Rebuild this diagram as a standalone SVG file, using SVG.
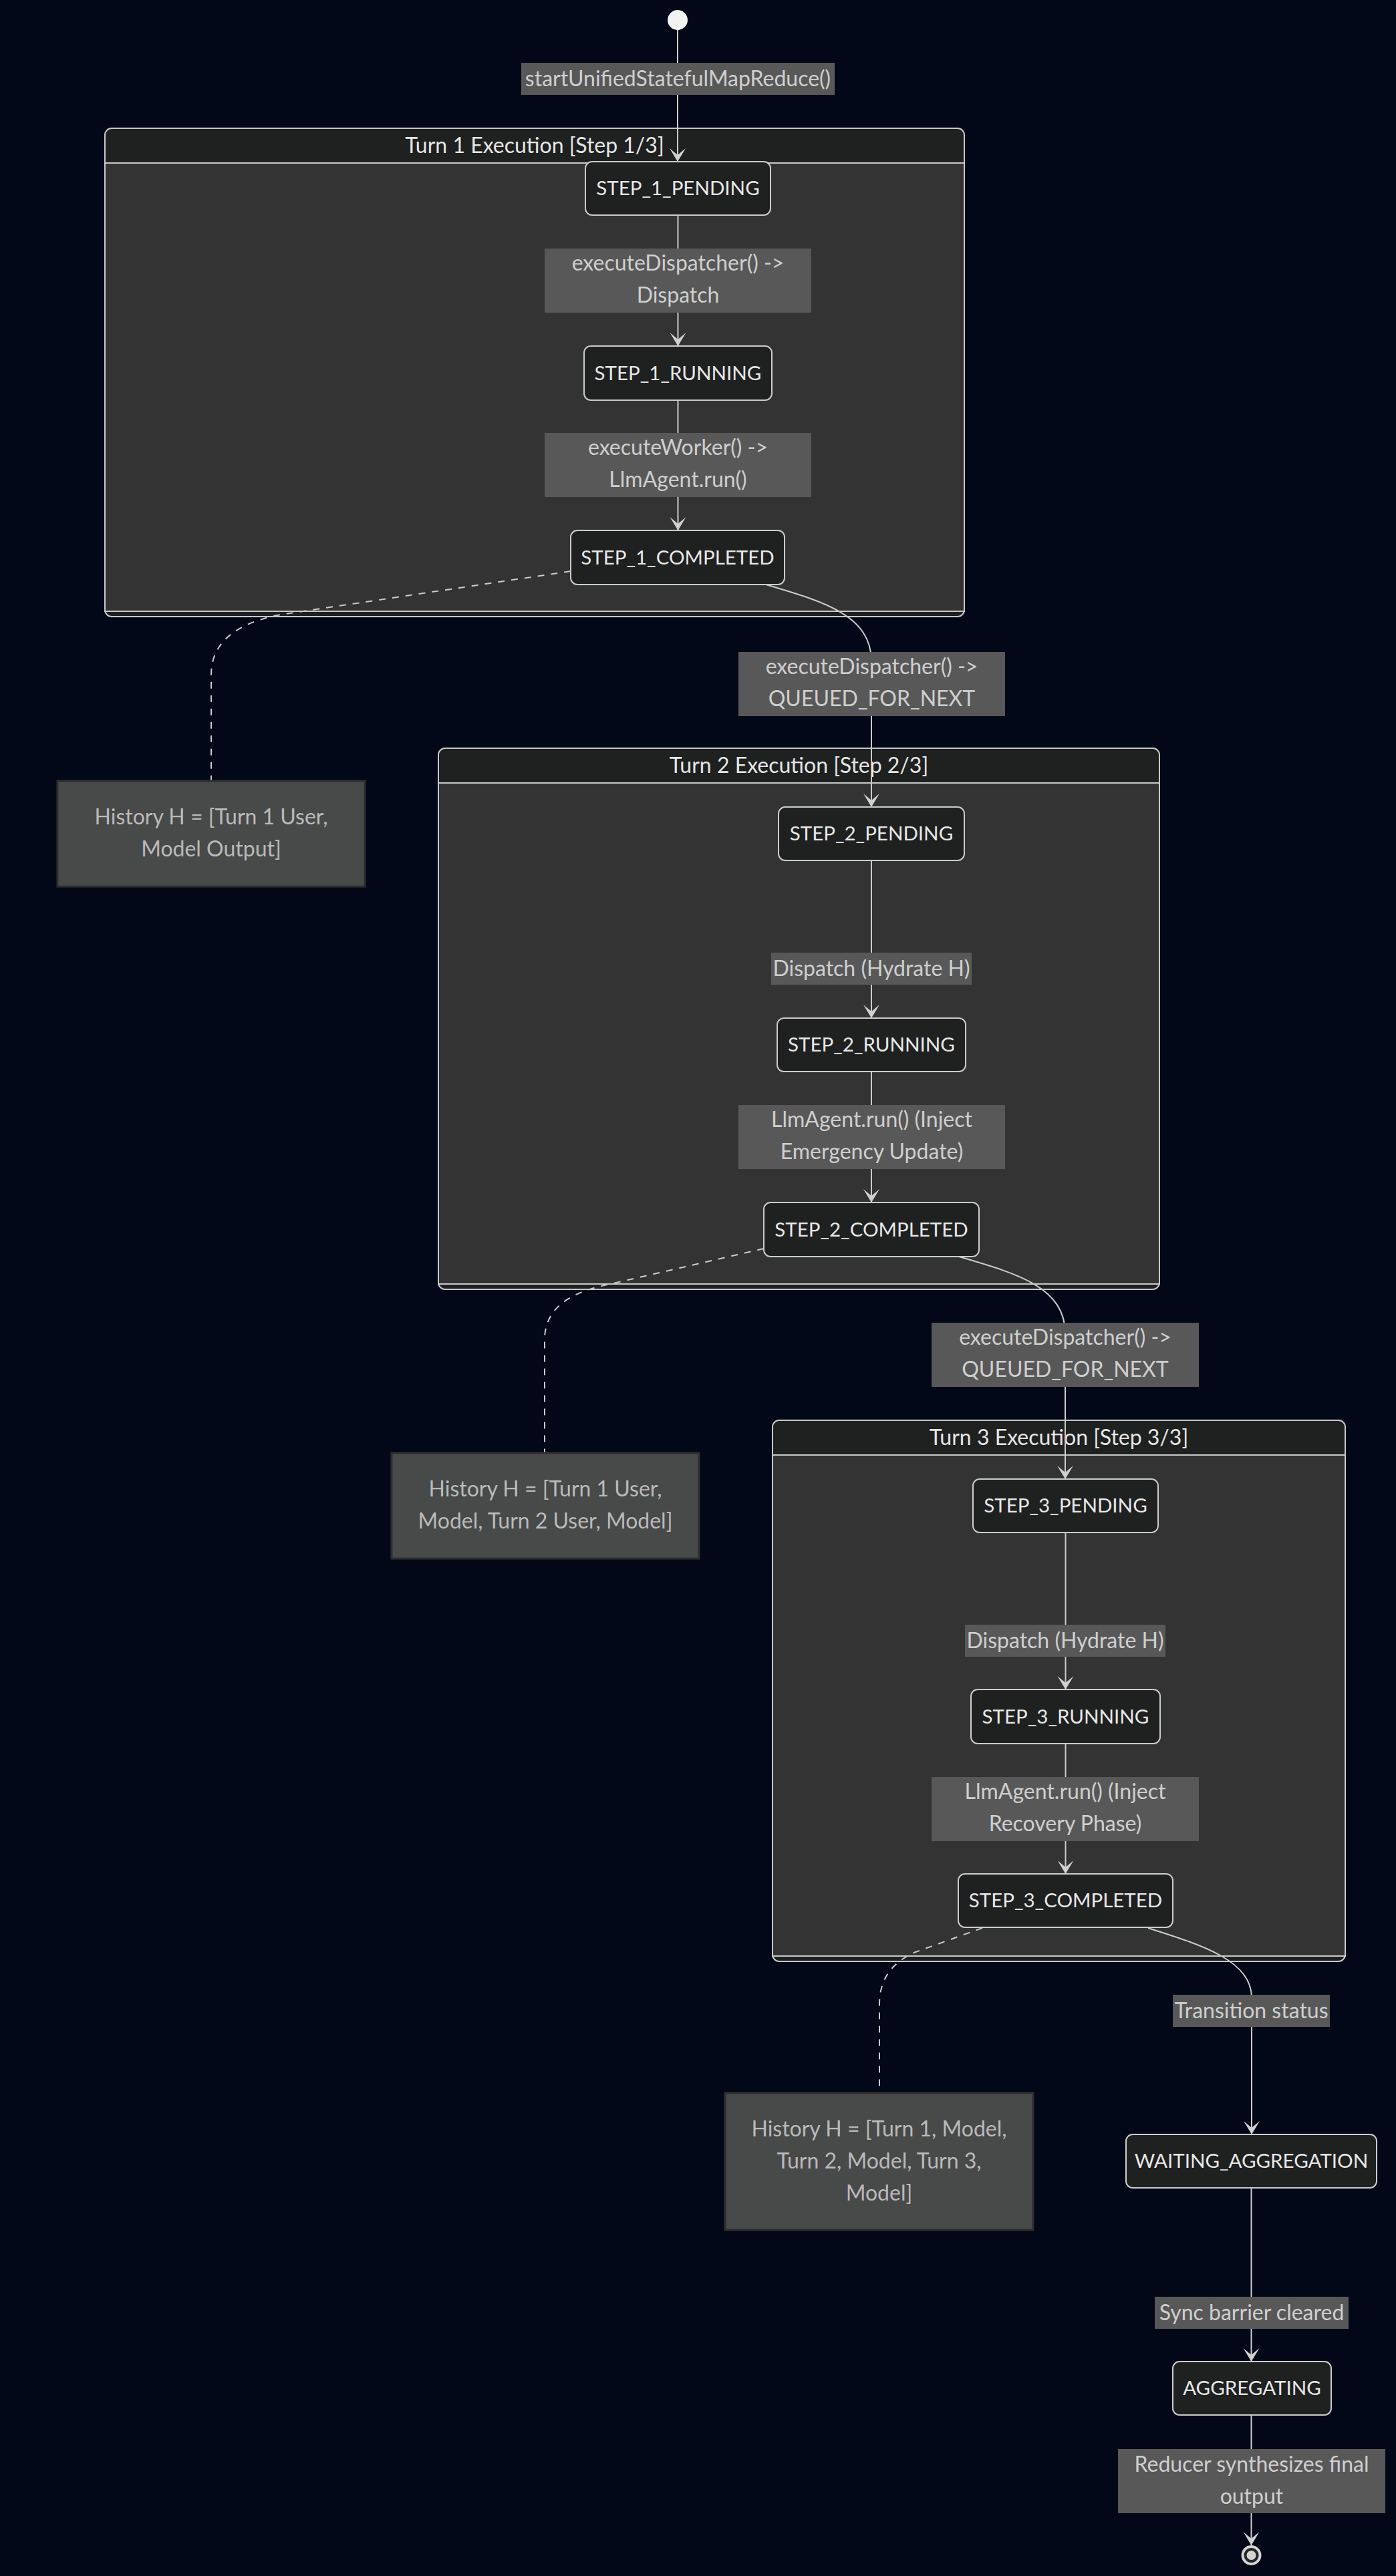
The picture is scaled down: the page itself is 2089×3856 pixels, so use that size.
<svg xmlns="http://www.w3.org/2000/svg" width="2089" height="3856" viewBox="0 0 2089 3856">
<style>
text{font-family:Lato,"Open Sans","DejaVu Sans",sans-serif;font-size:32px;text-anchor:middle}
.bg{fill:#020817}
.cl-outer{fill:#1f2020;stroke:#c8c8c8;stroke-width:2}
.cl-inner{fill:#333333;stroke:#c8c8c8;stroke-width:2}
.cl-title{fill:#e6e6e6}
.node rect{fill:#1f2020;stroke:#cccccc;stroke-width:2}
.node text{fill:#e8e8e8;font-size:29.5px}
.lbl rect{fill:#585858}
.lbl text{fill:#cfcfcf}
.note rect{fill:#484949;stroke:#2e2e2e;stroke-width:3}
.note text{fill:#bababa}
.edge{fill:none;stroke:#cccccc;stroke-width:2}
.dash{fill:none;stroke:#cccccc;stroke-width:2;stroke-dasharray:10 10}
</style>
<defs>
<marker id="arr" viewBox="0 0 20 14" refX="19" refY="7" markerWidth="40" markerHeight="28" markerUnits="userSpaceOnUse" orient="auto">
<path d="M19,7 L9,13 L14,7 L9,1 Z" fill="#d0d0d0"/>
</marker>
</defs>
<rect class="bg" x="0" y="0" width="2089" height="3856"/>

<g id="cluster-turn1">
<rect class="cl-outer" x="157" y="192" width="1286" height="731" rx="10"/>
<rect class="cl-inner" x="157" y="244" width="1286" height="671"/>
<text class="cl-title" x="800" y="229">Turn 1 Execution [Step 1/3]</text>
</g>
<g id="cluster-turn2">
<rect class="cl-outer" x="656" y="1120" width="1079" height="810" rx="10"/>
<rect class="cl-inner" x="656" y="1172" width="1079" height="750"/>
<text class="cl-title" x="1195.5" y="1157">Turn 2 Execution [Step 2/3]</text>
</g>
<g id="cluster-turn3">
<rect class="cl-outer" x="1156" y="2126" width="857" height="810" rx="10"/>
<rect class="cl-inner" x="1156" y="2178" width="857" height="750"/>
<text class="cl-title" x="1584.5" y="2163">Turn 3 Execution [Step 3/3]</text>
</g>

<g id="connectors">
<path class="edge" d="M1014,45 L1014,242" marker-end="url(#arr)"/>
<path class="edge" d="M1014.5,322 L1014.5,518" marker-end="url(#arr)"/>
<path class="edge" d="M1014.5,599 L1014.5,794" marker-end="url(#arr)"/>
<path class="edge" d="M1146,875 C1230,900 1304,920 1304,990 L1304,1208" marker-end="url(#arr)"/>
<path class="edge" d="M1304,1288 L1304,1524" marker-end="url(#arr)"/>
<path class="edge" d="M1304,1604 L1304,1800" marker-end="url(#arr)"/>
<path class="edge" d="M1435,1881 C1520,1906 1594,1926 1594,1996 L1594,2214" marker-end="url(#arr)"/>
<path class="edge" d="M1594.5,2294 L1594.5,2529" marker-end="url(#arr)"/>
<path class="edge" d="M1594.5,2610 L1594.5,2805" marker-end="url(#arr)"/>
<path class="edge" d="M1718,2886 C1800,2912 1873,2935 1873,2990 L1873,3195" marker-end="url(#arr)"/>
<path class="edge" d="M1872.5,3275 L1872.5,3535" marker-end="url(#arr)"/>
<path class="edge" d="M1872.5,3615 L1872.5,3810" marker-end="url(#arr)"/>
<path class="dash" d="M854,855 L420,920 Q316,940 316,1010 L316,1169"/>
<path class="dash" d="M1143,1869 L900,1925 Q815,1945 815,2005 L815,2175"/>
<path class="dash" d="M1470,2886 L1370,2922 Q1316,2945 1316,3000 L1316,3133"/>
</g>

<g id="edge-labels">
<g class="lbl"><rect x="780" y="94" width="469" height="48"/><text x="1014.5" y="129">startUnifiedStatefulMapReduce()</text></g>
<g class="lbl"><rect x="815" y="372" width="399" height="96"/><text x="1014.5" y="405">executeDispatcher() -&gt;</text><text x="1014.5" y="453">Dispatch</text></g>
<g class="lbl"><rect x="815" y="648" width="399" height="96"/><text x="1014.5" y="681">executeWorker() -&gt;</text><text x="1014.5" y="729">LlmAgent.run()</text></g>
<g class="lbl"><rect x="1105" y="976" width="399" height="96"/><text x="1304.5" y="1009">executeDispatcher() -&gt;</text><text x="1304.5" y="1057">QUEUED_FOR_NEXT</text></g>
<g class="lbl"><rect x="1154" y="1426" width="300" height="48"/><text x="1304" y="1461">Dispatch (Hydrate H)</text></g>
<g class="lbl"><rect x="1105" y="1654" width="399" height="96"/><text x="1304.5" y="1687">LlmAgent.run() (Inject</text><text x="1304.5" y="1735">Emergency Update)</text></g>
<g class="lbl"><rect x="1394" y="1980" width="400" height="96"/><text x="1594" y="2013">executeDispatcher() -&gt;</text><text x="1594" y="2061">QUEUED_FOR_NEXT</text></g>
<g class="lbl"><rect x="1444" y="2432" width="300" height="48"/><text x="1594" y="2467">Dispatch (Hydrate H)</text></g>
<g class="lbl"><rect x="1394" y="2660" width="400" height="96"/><text x="1594" y="2693">LlmAgent.run() (Inject</text><text x="1594" y="2741">Recovery Phase)</text></g>
<g class="lbl"><rect x="1755" y="2986" width="235" height="48"/><text x="1872.5" y="3021">Transition status</text></g>
<g class="lbl"><rect x="1728" y="3438" width="290" height="48"/><text x="1873" y="3473">Sync barrier cleared</text></g>
<g class="lbl"><rect x="1673" y="3666" width="400" height="96"/><text x="1873" y="3700">Reducer synthesizes final</text><text x="1873" y="3748">output</text></g>
</g>

<g id="start"><circle cx="1014" cy="30" r="15" fill="#f2f2f2"/></g>

<g id="STEP_1_PENDING" class="node"><rect x="876" y="242" width="277" height="80" rx="10"/><text x="1014.5" y="292">STEP_1_PENDING</text></g>
<g id="STEP_1_RUNNING" class="node"><rect x="874" y="518" width="281" height="81" rx="10"/><text x="1014.5" y="569">STEP_1_RUNNING</text></g>
<g id="STEP_1_COMPLETED" class="node"><rect x="854" y="794" width="320" height="81" rx="10"/><text x="1014" y="845">STEP_1_COMPLETED</text></g>
<g id="STEP_2_PENDING" class="node"><rect x="1165" y="1208" width="278" height="80" rx="10"/><text x="1304" y="1258">STEP_2_PENDING</text></g>
<g id="STEP_2_RUNNING" class="node"><rect x="1163" y="1524" width="282" height="80" rx="10"/><text x="1304" y="1574">STEP_2_RUNNING</text></g>
<g id="STEP_2_COMPLETED" class="node"><rect x="1143" y="1800" width="322" height="81" rx="10"/><text x="1304" y="1851">STEP_2_COMPLETED</text></g>
<g id="STEP_3_PENDING" class="node"><rect x="1456" y="2214" width="277" height="80" rx="10"/><text x="1594.5" y="2264">STEP_3_PENDING</text></g>
<g id="STEP_3_RUNNING" class="node"><rect x="1453" y="2529" width="283" height="81" rx="10"/><text x="1594.5" y="2580">STEP_3_RUNNING</text></g>
<g id="STEP_3_COMPLETED" class="node"><rect x="1434" y="2805" width="321" height="80" rx="10"/><text x="1594.5" y="2855">STEP_3_COMPLETED</text></g>
<g id="WAITING_AGGREGATION" class="node"><rect x="1685" y="3195" width="375" height="80" rx="10"/><text x="1872.5" y="3245">WAITING_AGGREGATION</text></g>
<g id="AGGREGATING" class="node"><rect x="1755" y="3535" width="237" height="80" rx="10"/><text x="1873.5" y="3585">AGGREGATING</text></g>

<g id="end"><circle cx="1872.5" cy="3825" r="15" fill="#d4d4d4"/><circle cx="1872.5" cy="3825" r="11" fill="#262626"/><circle cx="1872.5" cy="3825" r="7" fill="#d4d4d4"/></g>

<g id="note1" class="note"><rect x="86" y="1169" width="460" height="158"/><text x="316" y="1234">History H = [Turn 1 User,</text><text x="316" y="1282">Model Output]</text></g>
<g id="note2" class="note"><rect x="586" y="2175" width="460" height="158"/><text x="816" y="2240">History H = [Turn 1 User,</text><text x="816" y="2288">Model, Turn 2 User, Model]</text></g>
<g id="note3" class="note"><rect x="1085" y="3133" width="461" height="205"/><text x="1315.5" y="3198">History H = [Turn 1, Model,</text><text x="1315.5" y="3246">Turn 2, Model, Turn 3,</text><text x="1315.5" y="3294">Model]</text></g>
</svg>
